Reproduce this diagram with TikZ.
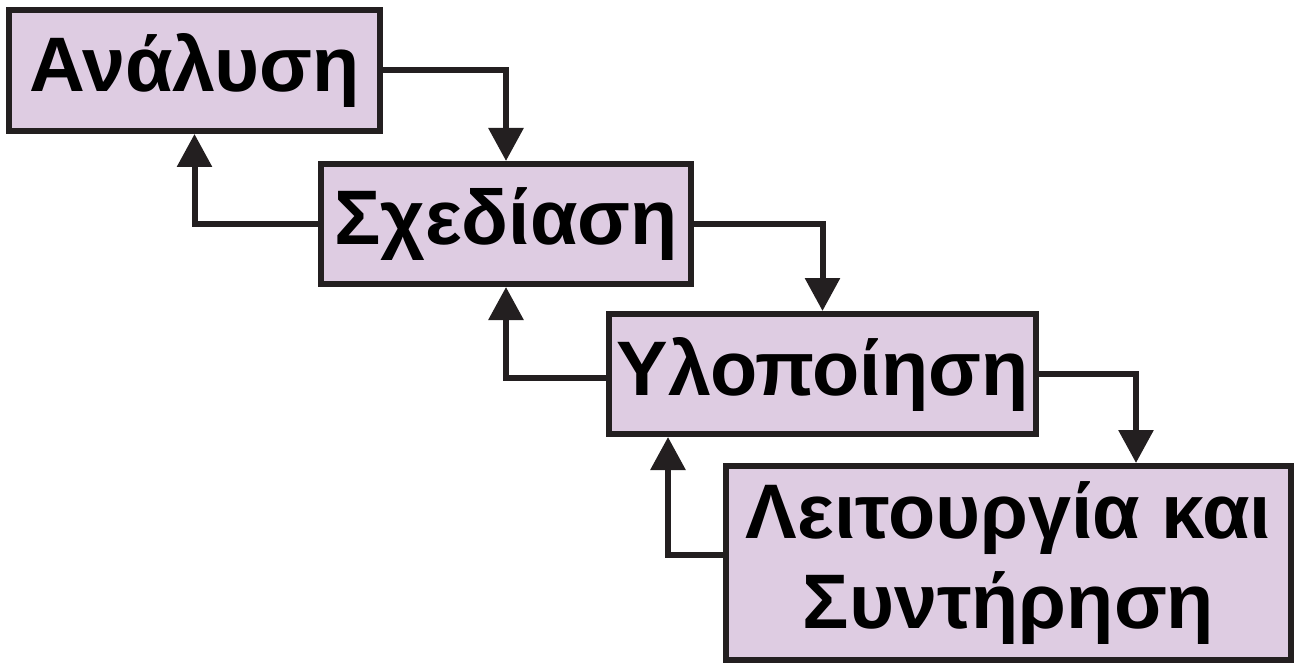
\documentclass[tikz,border=0pt]{standalone}
\usepackage{fontspec}
\setmainfont{Liberation Sans}
\usepackage{tikz}
\usetikzlibrary{arrows.meta}

\definecolor{stagefill}{RGB}{222,204,226}
\definecolor{stageline}{RGB}{35,31,32}

\begin{document}
\begin{tikzpicture}[
    stage/.style={shape=rectangle, draw=stageline, fill=stagefill, line width=0.12cm,
        inner sep=0pt, align=center,
        font=\fontsize{44}{51}\selectfont\bfseries},
    flow/.style={draw=stageline, line width=0.12cm,
        -{Triangle[width=0.68cm,length=0.66cm]}}
]
    \useasboundingbox (0,0) rectangle (25.94,-13.28);

    \node[stage, minimum width=7.42cm, minimum height=2.42cm] (ana) at (3.89,-1.41) {Ανάλυση};
    \node[stage, minimum width=7.40cm, minimum height=2.40cm] (sxe) at (10.12,-4.48) {Σχεδίαση};
    \node[stage, minimum width=8.54cm, minimum height=2.40cm] (ylo) at (16.45,-7.48) {Υλοποίηση};
    \node[stage, minimum width=11.30cm, minimum height=3.88cm] (lei) at (20.17,-11.26) {Λειτουργία και\\Συντήρηση};

    % forward steps
    \draw[flow] (ana.east) -| (sxe.north);
    \draw[flow] (sxe.east) -| (ylo.north);
    \draw[flow] (ylo.east) -| ([xshift=2.55cm]lei.north);

    % feedback to the stage before
    \draw[flow] (sxe.west) -| (ana.south);
    \draw[flow] ([yshift=-0.08cm]ylo.west) -| (sxe.south);
    \draw[flow] ([yshift=0.16cm]lei.west) -| ([xshift=-3.09cm]ylo.south);

\end{tikzpicture}
\end{document}
